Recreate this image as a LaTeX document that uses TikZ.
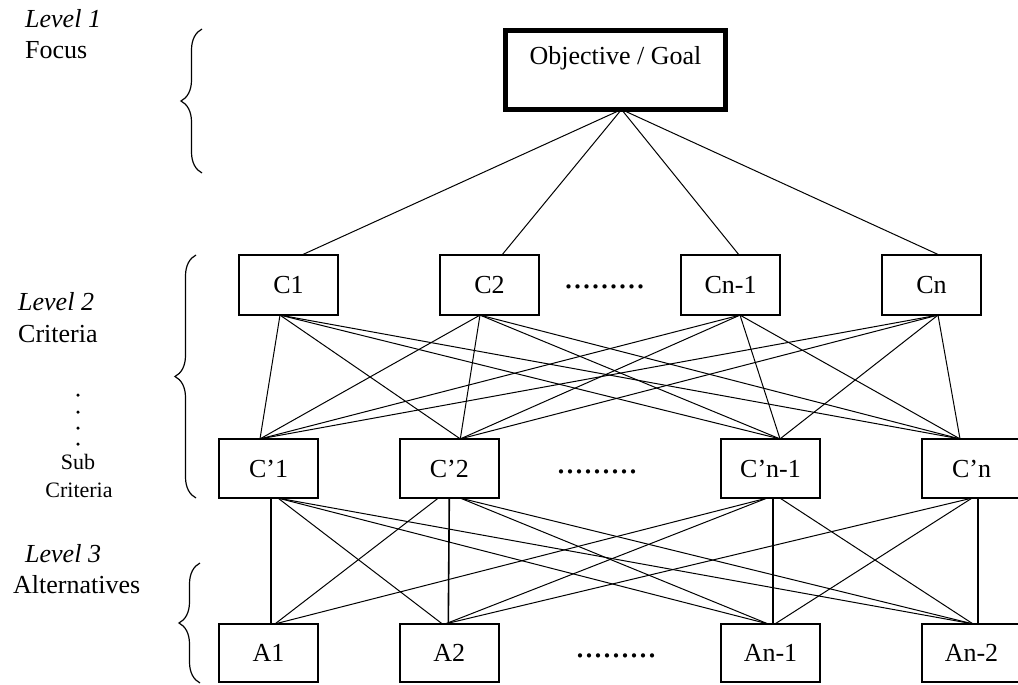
\documentclass[tikz,border=0pt]{standalone}
\usepackage{fontspec}
\setmainfont{Liberation Serif}
\usetikzlibrary{decorations.pathreplacing}
\begin{document}
\begin{tikzpicture}[x=1pt,y=-1pt,
  box/.style={draw, line width=1.8pt, minimum width=99.2pt, minimum height=60.2pt,
    inner sep=0pt, outer sep=0pt, font=\fontsize{26}{30}\selectfont},
  cpbox/.style={box, minimum height=59.2pt},
  abox/.style={box, minimum height=58.2pt},
  link/.style={line width=1pt},
  vlink/.style={line width=1.6pt},
  lbl/.style={anchor=base west, inner sep=0pt, font=\fontsize{26}{30}\selectfont},
  sublbl/.style={anchor=base, inner sep=0pt, font=\fontsize{22}{26}\selectfont},
  dots/.style={anchor=base, inner sep=0pt, font=\fontsize{36}{40}\selectfont},
  brc/.style={decorate, decoration={brace, amplitude=21pt}, line width=1.2pt},
  vdot/.style={fill, circle, inner sep=0pt, minimum size=3.5pt}
]
\useasboundingbox (0,0) rectangle (1018,685);

% goal
\node[draw, line width=5pt, minimum width=220pt, minimum height=79pt,
  text height=20pt, text depth=30pt, inner sep=0pt, outer sep=0pt,
  font=\fontsize{26}{30}\selectfont] (obj) at (615.5,70) {Objective / Goal};

% criteria
\node[box] (C1) at (288.5,285) {C1};
\node[box] (C2) at (489.5,285) {C2};
\node[box] (Cn1) at (730.5,285) {Cn-1};
\node[box] (Cn) at (931.5,285) {Cn};
\node[dots] (d1) at (604.5,288) {.........};

% sub criteria
\node[cpbox] (P1) at (268.5,468.5) {C’1};
\node[cpbox] (P2) at (449.3,468.5) {C’2};
\node[cpbox] (Pn1) at (770.5,468.5) {C’n-1};
\node[cpbox] (Pn) at (971.5,468.5) {C’n};
\node[dots] (d2) at (597,473) {.........};

% alternatives
\node[abox] (A1) at (268.5,653) {A1};
\node[abox] (A2) at (449.3,653) {A2};
\node[abox] (An1) at (770.5,653) {An-1};
\node[abox] (An2) at (971.5,653) {An-2};
\node[dots] (d3) at (616,657) {.........};

% left labels
\node[lbl, font=\fontsize{26}{30}\selectfont\itshape] (L1) at (25,28) {Level 1};
\node[lbl] (F1) at (25,59) {Focus};
\node[lbl, font=\fontsize{26}{30}\selectfont\itshape] (L2) at (18,310) {Level 2};
\node[lbl] (F2) at (18,342) {Criteria};
\node[vdot] (v1) at (78,395) {};
\node[vdot] (v2) at (78,412) {};
\node[vdot] (v3) at (78,428) {};
\node[vdot] (v4) at (78,444) {};
\node[sublbl] (S1) at (78,469) {Sub};
\node[sublbl] (S2) at (79,497) {Criteria};
\node[lbl, font=\fontsize{26}{30}\selectfont\itshape] (L3) at (25,562) {Level 3};
\node[lbl] (F3) at (13,593) {Alternatives};

% braces
\coordinate (b1a) at (202,173); \coordinate (b1b) at (202,29);
\coordinate (b2a) at (196,498); \coordinate (b2b) at (196,255);
\coordinate (b3a) at (200,683); \coordinate (b3b) at (200,563);
\draw[brc] (b1a) -- (b1b);
\draw[brc] (b2a) -- (b2b);
\draw[brc] (b3a) -- (b3b);

% goal -> criteria
\foreach \n/\o in {C1/13.5, C2/12.5, Cn1/8.5, Cn/7.5}
  \draw[link] ([xshift=6pt]obj.south) -- ([xshift=\o pt]\n.north);

% criteria -> sub criteria (complete)
\foreach \c/\co in {C1/-8.5, C2/-9.5, Cn1/9.5, Cn/6.5}
  \foreach \p/\po in {P1/-8.5, P2/11, Pn1/9.5, Pn/-11.5}
    \draw[link] ([xshift=\co pt]\c.south) -- ([xshift=\po pt]\p.north);

% sub criteria -> alternatives (vertical)
\draw[vlink] ([xshift=2.5pt]P1.south) -- ([xshift=2.5pt]A1.north);
\draw[vlink] (P2.south) -- ([xshift=-1pt]A2.north);
\draw[vlink] ([xshift=2.5pt]Pn1.south) -- ([xshift=2.5pt]An1.north);
\draw[vlink] ([xshift=6.5pt]Pn.south) -- ([xshift=6.5pt]An2.north);

% sub criteria -> alternatives (diagonal)
\draw[link] ([xshift=9.5pt]P1.south) -- ([xshift=-7pt]A2.north);
\draw[link] ([xshift=9.5pt]P1.south) -- ([xshift=-2.5pt]An1.north);
\draw[link] ([xshift=9.5pt]P1.south) -- ([xshift=1.5pt]An2.north);
\draw[link] ([xshift=-11pt]P2.south) -- ([xshift=6.5pt]A1.north);
\draw[link] ([xshift=11pt]P2.south) -- ([xshift=-2.5pt]An1.north);
\draw[link] ([xshift=11pt]P2.south) -- ([xshift=1.5pt]An2.north);
\draw[link] ([xshift=-3.5pt]Pn1.south) -- ([xshift=6.5pt]A1.north);
\draw[link] ([xshift=-3.5pt]Pn1.south) -- ([xshift=-4pt]A2.north);
\draw[link] ([xshift=9.5pt]Pn1.south) -- ([xshift=1.5pt]An2.north);
\draw[link] ([xshift=0.5pt]Pn.south) -- ([xshift=-4pt]A2.north);
\draw[link] ([xshift=0.5pt]Pn.south) -- ([xshift=4.5pt]An1.north);
\end{tikzpicture}
\end{document}
